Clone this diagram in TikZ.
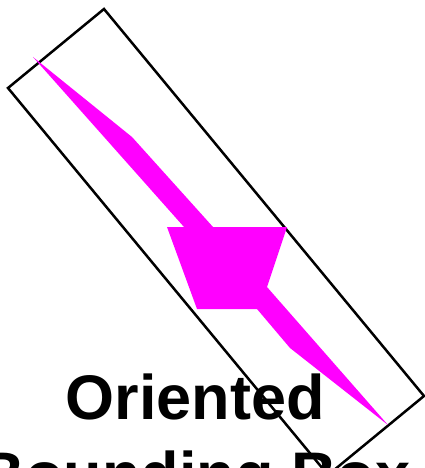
\documentclass[tikz,border=0pt]{standalone}
\usepackage{fontspec}
\setmainfont{Liberation Sans}
\definecolor{mag}{RGB}{255,0,255}
\begin{document}
\begin{tikzpicture}[x=1pt,y=-1pt,
  obb/.style={draw=black,line width=2.5pt,line join=miter},
  shapefill/.style={fill=mag,draw=none},
  title/.style={font=\fontsize{63}{77}\selectfont\bfseries,inner sep=0pt,anchor=base}]
\useasboundingbox (0,0) rectangle (425,468);
\clip (0,0) rectangle (425,468);
\draw[obb] (104,9) -- (424,396) -- (328,475) -- (8,88) -- cycle;
\fill[shapefill] (33,57) -- (132,137) -- (213,227) -- (287,227) -- (267,287)
  -- (388,425) -- (290,348) -- (257,309) -- (197,309) -- (167,227) -- (184,227) -- cycle;
\node[title] (t1) at (195,419) {Oriented};
\node[title] (t2) at (195,496) {Bounding Box};
\end{tikzpicture}
\end{document}
